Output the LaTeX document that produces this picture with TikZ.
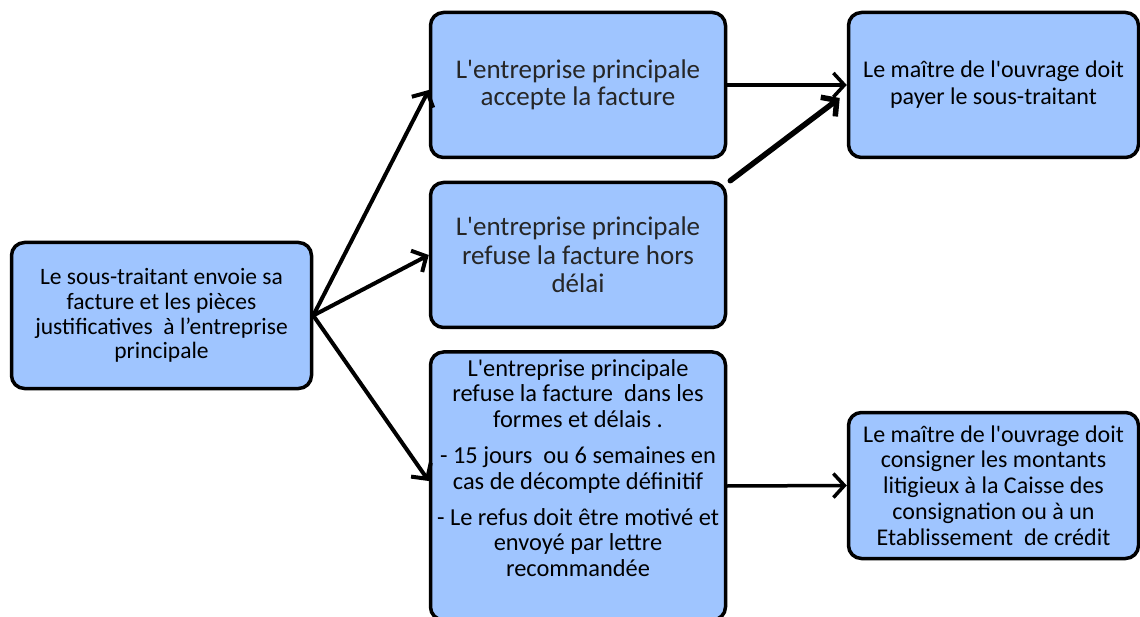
\documentclass[tikz,border=0pt]{standalone}
\usepackage{fontspec}
\setmainfont{Carlito}[Ligatures=TeXOff]
\usetikzlibrary{arrows.meta,positioning}
\definecolor{boitebleue}{HTML}{9FC5FF}
\definecolor{textegris}{HTML}{262626}
\begin{document}
\begin{tikzpicture}[x=1pt,y=-1pt,
		etape/.style={rectangle,draw,fill=boitebleue,line width=3.5pt,rounded corners=13pt,inner sep=0pt,align=center},
		fleche/.style={-{Straight Barb[length=11pt,width=24pt]},line width=4pt,line cap=round}]
		\useasboundingbox (0,0) rectangle (1140,617);
		% colonne de gauche
		\node[etape,minimum width=300pt,minimum height=146pt,font=\fontsize{23.5}{24.7}\selectfont] (sous) at (161.5,315.5)
			{Le sous-traitant envoie sa\\facture et les pièces\\justificatives\ \ à l’entreprise\\principale};
		% colonne du milieu
		\node[etape,minimum width=295pt,minimum height=145pt,text=textegris,font=\fontsize{27}{27}\selectfont] (accepte) at (578,85)
			{L'entreprise principale\\accepte la facture};
		\node[etape,minimum width=295pt,minimum height=145pt,text=textegris,font=\fontsize{27}{28.5}\selectfont] (horsdelai) at (578,255)
			{L'entreprise principale\\refuse la facture hors\\délai};
		\node[etape,minimum width=295pt,minimum height=268pt] (refus) at (578,486) {};
		\node[anchor=north,align=center,inner sep=0pt,font=\fontsize{24.4}{25.8}\selectfont] (refustxt) at (578,359)
			{L'entreprise principale\\refuse la facture\ \ dans les\\formes et délais .\\[10pt]
			 - 15 jours\ \ ou 6 semaines en\\cas de décompte définitif\\[10pt]
			 - Le refus doit être motivé et\\envoyé par lettre\\recommandée};
		% colonne de droite
		\node[etape,minimum width=290pt,minimum height=145pt,font=\fontsize{24}{27}\selectfont] (payer) at (993.5,85)
			{Le maître de l'ouvrage doit\\payer le sous-traitant};
		\node[etape,minimum width=290pt,minimum height=146pt,font=\fontsize{24}{25.8}\selectfont] (consigner) at (993.5,485.5)
			{Le maître de l'ouvrage doit\\consigner les montants\\litigieux à la Caisse des\\consignation ou à un\\Etablissement\ \ de crédit};
		% connecteurs
		\draw[fleche] (sous.east) -- ([yshift=-5pt]accepte.west);
		\draw[fleche] (sous.east) -- (horsdelai.west);
		\draw[fleche] (sous.east) -- ([yshift=5pt]refus.west);
		\draw[fleche,line width=3.5pt] (accepte.east) -- (payer.west);
		\draw[fleche,line width=5.5pt] ([xshift=3pt]horsdelai.north east) -- ([xshift=-7pt,yshift=-13pt]payer.west);
		\draw[fleche,line width=3.5pt] (refus.east) -- (consigner.west);
	\end{tikzpicture}
\end{document}
